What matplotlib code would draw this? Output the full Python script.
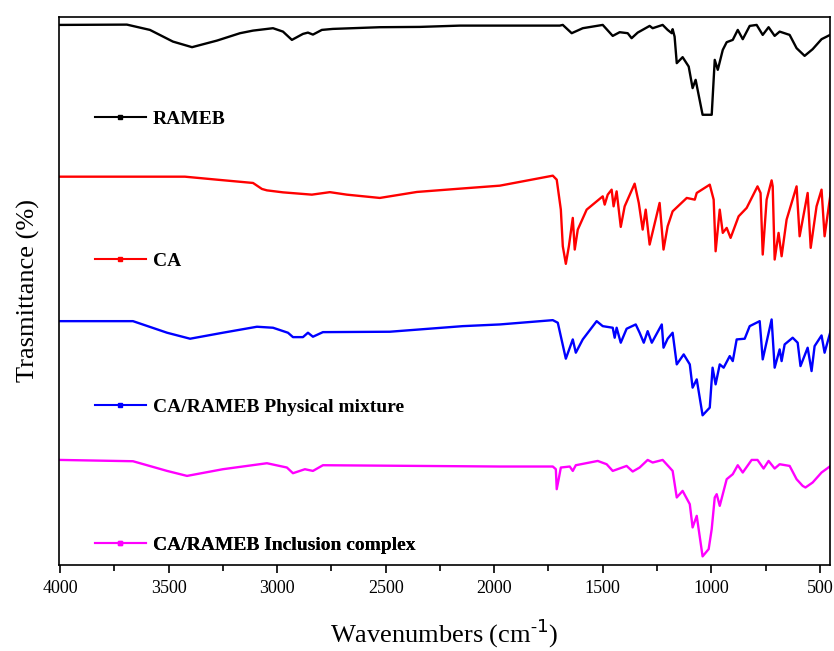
import numpy as np
import matplotlib
matplotlib.use("Agg")
import matplotlib.pyplot as plt
from matplotlib.lines import Line2D
from matplotlib.ticker import MultipleLocator

# FTIR spectra, stacked with offsets (arbitrary transmittance units)
rameb_wn = [4000, 3692, 3586, 3480, 3392, 3277, 3171, 3111, 3019, 2973, 2932, 2881, 2858, 2835,
            2794, 2743, 2527, 2343, 2158,
            1698, 1684, 1643, 1592, 1500, 1454, 1422, 1385, 1367, 1339, 1284, 1270, 1224, 1201,
            1182, 1178, 1169, 1159, 1132, 1104, 1086, 1072, 1040, 998, 984, 970, 947, 929, 901,
            878, 855, 823, 791, 763, 736, 708, 685, 639, 607, 570, 533, 492, 450]
rameb_t = [541, 541.3, 536, 524.3, 518.7, 525.3, 532.7, 535.3, 537.7, 534.3, 526, 532, 533.3, 531.3,
           536, 537, 538.7, 539, 540.3,
           540.3, 541, 532.7, 537.7, 541, 530, 533.7, 532.7, 527.7, 533.3, 540, 537.7, 541, 536,
           532.7, 536.7, 529.3, 502.7, 508.7, 499.3, 477.7, 486, 451, 451, 506, 496, 516, 523.7, 526,
           536, 526.7, 540, 541, 531, 538.7, 530, 534.3, 531, 517.7, 510, 516.7, 526.7, 531.3]

ca_wn = [4000, 3425, 3277, 3111, 3070, 3047, 2973, 2840, 2757, 2679, 2527, 2356, 2158, 1974,
         1730, 1712, 1693, 1684, 1670, 1656, 1638, 1629, 1615, 1574, 1500, 1491, 1477, 1459,
         1450, 1436, 1417, 1399, 1353, 1334, 1316, 1302, 1284, 1238, 1220, 1201, 1178, 1113,
         1076, 1067, 1007, 989, 980, 961, 947, 929, 911, 874, 837, 787, 773, 763, 745, 722, 717,
         708, 690, 676, 653, 607, 593, 556, 542, 515, 492, 478, 450]
ca_t = [389, 389, 386, 382.7, 376.7, 375.3, 373.3, 371, 373.5, 371, 367.7, 373.7, 377, 380,
        390, 386, 356, 319.3, 301.7, 319.3, 347.7, 316, 336, 356, 369.3, 361, 371, 376,
        359.3, 374.3, 338.7, 359.3, 382, 362.7, 336, 356, 321, 362.7, 316, 339.3, 354.3, 367.7,
        366, 372.7, 381, 366, 314.3, 356, 332.7, 337.7, 327.7, 349.3, 357.7, 379.3, 372.7, 311,
        366, 385.3, 379.3, 306, 332.7, 309.3, 346, 379.3, 329.3, 372.7, 317.7, 359.3, 376,
        329.3, 372.7]

pm_wn = [4000, 3664, 3507, 3401, 3250, 3093, 3019, 2950, 2927, 2881, 2858, 2835, 2789, 2481,
         2145, 1974,
         1730, 1707, 1670, 1638, 1624, 1592, 1528, 1500, 1454, 1445, 1436, 1417, 1390, 1348,
         1330, 1311, 1293, 1274, 1228, 1220, 1201, 1178, 1159, 1127, 1099, 1086, 1067, 1040,
         1007, 994, 980, 961, 943, 915, 901, 883, 846, 823, 777, 763, 722, 708, 685, 676, 662,
         625, 602, 589, 556, 538, 524, 492, 478, 446]
pm_t = [244.3, 244.3, 232.7, 226.7, 232.7, 238.7, 237.7, 232.7, 228.3, 228.3, 232.7, 228.7, 233.3,
        233.7, 239.3, 241,
        245.3, 242.7, 206.7, 226, 212.7, 226, 244.3, 239.3, 237.7, 227.7, 237.7, 222.7, 236.7, 241,
        232.7, 222.7, 234.3, 222.7, 241, 217.7, 226.7, 232.7, 201, 211, 201, 177.7, 186, 150,
        157.7, 197.7, 181, 201, 197.7, 209.3, 204.3, 226, 226.7, 239.3, 244.3, 206, 246, 197.7, 216,
        204.3, 221, 227.7, 222.7, 199.3, 217.7, 194.3, 219.3, 230, 212.7, 237.7]

ic_wn = [4000, 3664, 3507, 3415, 3250, 3047, 2955, 2927, 2872, 2835, 2789, 1974, 1730, 1716,
         1712, 1703,
         1693, 1652, 1638, 1624, 1523, 1482, 1454, 1390, 1362, 1330, 1293, 1270, 1224, 1192,
         1178, 1159, 1132, 1099, 1086, 1067, 1040, 1012, 998, 984, 975, 961, 929, 901, 878, 855,
         814, 787, 759, 736, 708, 685, 639, 607, 579, 566, 533, 492, 446]
ic_t = [105.3, 104, 94.3, 89.3, 96, 102, 97.7, 92, 96, 94.3, 100, 98.7, 98.7, 96,
        76, 86,
        97.7, 98.7, 94.3, 100, 104.3, 101, 94.3, 99.3, 93.7, 97.7, 105.3, 102.7, 105.3, 97.7,
        94.3, 67.7, 74.3, 61, 37.7, 49.3, 8.7, 16, 36, 67.7, 71, 59.3, 86, 91, 100, 92.7,
        105.3, 105.3, 96.7, 104.3, 96.7, 101, 99.3, 86, 79.3, 77.7, 82.7, 92.7, 100]

labels = ["RAMEB", "CA", "CA/RAMEB Physical mixture", "CA/RAMEB Inclusion complex"]
colors = ["black", "#ff0000", "#0000ff", "#ff00ff"]

serif = ["Liberation Serif", "DejaVu Serif"]
plt.rcParams["font.family"] = serif

fig = plt.figure(figsize=(8.34, 6.51), dpi=100)
ax = fig.add_axes([0.0707, 0.132, 0.924, 0.842])

series = [(rameb_wn, rameb_t), (ca_wn, ca_t), (pm_wn, pm_t), (ic_wn, ic_t)]
for (wn, t), c in zip(series, colors):
    ax.plot(wn, t, color=c, lw=1.7, solid_joinstyle="round")

ax.set_xlim(4005, 455)
ax.set_ylim(0, 549)
ax.xaxis.set_major_locator(MultipleLocator(500))
ax.xaxis.set_minor_locator(MultipleLocator(250))
ax.tick_params(axis="x", which="major", direction="out", length=6, width=1.2, labelsize=13, pad=5)
ax.tick_params(axis="x", which="minor", direction="out", length=4, width=1.2)
ax.set_yticks([])
for s in ax.spines.values():
    s.set_linewidth(1.2)

ax.set_xlabel("Wavenumbers (cm$^{\\mathregular{\u2010}1}$)", fontsize=19, labelpad=14)
ax.set_ylabel("Trasmittance (%)", fontsize=19, labelpad=14)

# one legend entry next to each spectrum
ypos = [0.814, 0.554, 0.288, 0.036]
for lab, c, y in zip(labels, colors, ypos):
    h = Line2D([], [], color=c, lw=1.5, marker="s", markersize=2.5)
    leg = ax.legend(handles=[h], labels=[lab], loc="center left", bbox_to_anchor=(0.047, y),
                    frameon=False, borderpad=0, borderaxespad=0, handlelength=2.6,
                    handletextpad=0.35, numpoints=1,
                    prop={"family": serif, "weight": "bold", "size": 14})
    ax.add_artist(leg)

fig.savefig("out.png", dpi=100)
